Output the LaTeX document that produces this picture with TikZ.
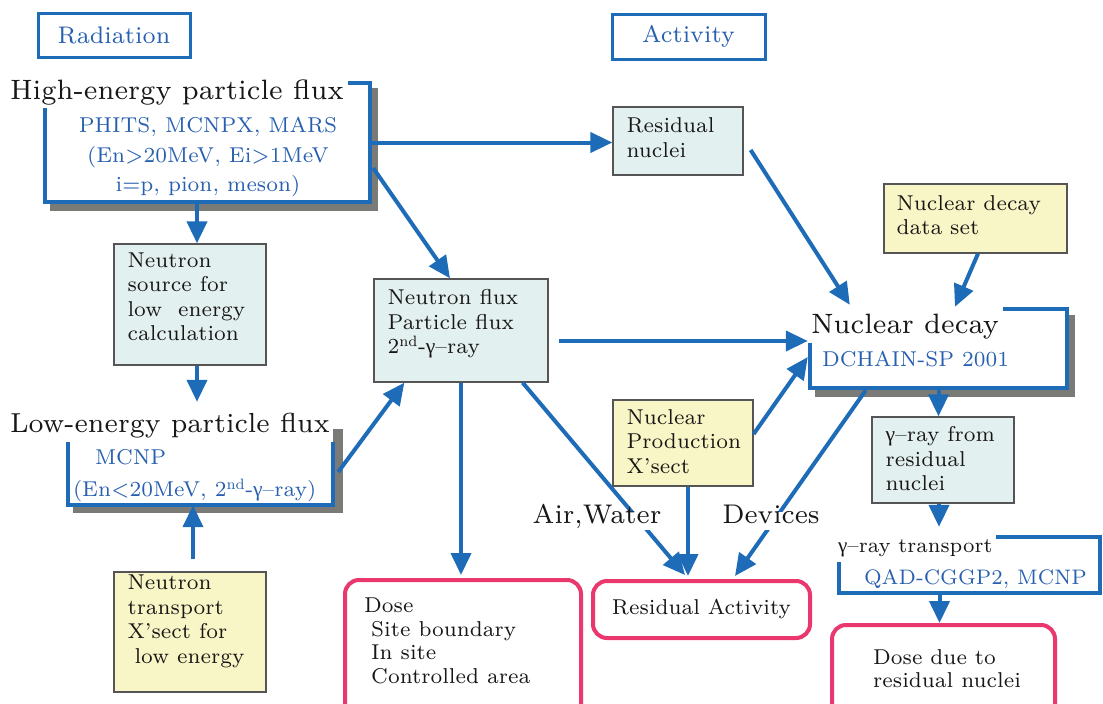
\documentclass[tikz,border=0pt]{standalone}
\usepackage{fontspec}
\setmainfont{lmroman7-regular.otf}[FakeStretch=0.96]
\newfontfamily\GrF{Liberation Serif}
\usetikzlibrary{arrows.meta,calc}
\pgfdeclarelayer{bg}
\pgfsetlayers{bg,main}
\definecolor{bline}{RGB}{30,108,184}
\definecolor{btext}{RGB}{40,96,176}
\definecolor{pinkc}{RGB}{234,55,110}
\definecolor{cyanf}{RGB}{226,241,240}
\definecolor{yelf}{RGB}{248,246,198}
\definecolor{bordc}{RGB}{85,85,85}
\definecolor{shadc}{RGB}{122,122,118}
\definecolor{txtc}{RGB}{25,22,22}
\newcommand\gam{{\GrF γ}}
\newcommand\FTitle{\fontsize{28}{30}\selectfont}
\newcommand\FBody{\fontsize{21.5}{24.5}\selectfont}
\newcommand\FBlue{\fontsize{21.5}{29.5}\selectfont}
\newcommand\FHead{\fontsize{24}{27}\selectfont}
\newcommand\FLab{\fontsize{27}{29}\selectfont}
\begin{document}
\begin{tikzpicture}[x=1pt,y=-1pt,
  arr/.style={draw=bline, line width=4pt, -{Triangle[length=22pt,width=20pt]}},
  cbox/.style={draw=bordc, line width=1.3pt, fill=cyanf, inner sep=0pt},
  ybox/.style={draw=bordc, line width=1.3pt, fill=yelf, inner sep=0pt},
  pbox/.style={draw=pinkc, line width=4pt, rounded corners=14pt, fill=white, inner sep=0pt},
  hbox/.style={draw=bline, line width=3pt, text=btext, font=\FHead, inner sep=0pt},
  brk/.style={draw=bline, line width=4pt},
  brkbox/.style={fill=white, inner sep=0pt},
  btxt/.style={text=txtc, font=\FBody, align=left, inner sep=0pt, anchor=west},
  bluetxt/.style={text=btext, font=\FBlue, inner sep=0pt},
  ttl/.style={text=txtc, font=\FTitle, inner sep=0pt, anchor=base west},
  lab/.style={text=txtc, font=\FLab, fill=white, inner sep=4pt, text height=0.72em, text depth=0.25em},
]
\useasboundingbox (0,0) rectangle (1103,704);
\clip (0,0) rectangle (1103,704);

% header boxes
\node[hbox, minimum width=152pt, minimum height=44pt] (rad) at (114,35) {Radiation};
\node[hbox, minimum width=153pt, minimum height=45pt] (act) at (688.5,36.5) {Activity};

% bracket boxes
\node[brkbox, minimum width=325pt, minimum height=119pt] (he) at (207.5,142.5) {};
\node[brkbox, minimum width=265pt, minimum height=82pt] (le) at (200.5,464) {};
\node[brkbox, minimum width=257pt, minimum height=79pt] (nd) at (938.5,348.5) {};
\node[brkbox, minimum width=261pt, minimum height=56pt] (gt) at (969.5,565) {};

\begin{pgfonlayer}{bg}
\fill[white] (0,0) rectangle (1103,704);
\fill[shadc] ($(he.north west)+(5,5)$) rectangle ($(he.south east)+(8,9)$);
\fill[shadc] ($(le.north west)+(5,6)$) rectangle ($(le.south east)+(10,8)$);
\fill[shadc] ($(nd.north west)+(5,6)$) rectangle ($(nd.south east)+(8,9)$);
\end{pgfonlayer}

\draw[brk] ($(he.north west)+(0,25)$) -- (he.south west) -- (he.south east) -- (he.north east) -- ($(he.north east)+(-22,0)$);
\draw[brk] ($(le.north west)+(0,19)$) -- (le.south west) -- (le.south east) -- ($(le.north east)+(0,19)$);
\draw[brk] ($(nd.north west)+(0,34)$) -- (nd.south west) -- (nd.south east) -- (nd.north east) -- ($(nd.north east)+(-64,0)$);
\draw[brk] ($(gt.north west)+(0,25)$) -- (gt.south west) -- (gt.south east) -- (gt.north east) -- ($(gt.north east)+(-104,0)$);

% plain boxes
\node[cbox, minimum width=152pt, minimum height=121pt] (ns) at (190,304.5) {};
\node[ybox, minimum width=152pt, minimum height=120pt] (nt) at (190,632) {};
\node[cbox, minimum width=174pt, minimum height=103pt] (nf) at (461,330.5) {};
\node[cbox, minimum width=130pt, minimum height=68pt] (rn) at (678,141) {};
\node[ybox, minimum width=183pt, minimum height=69pt] (nds) at (975.5,218.5) {};
\node[ybox, minimum width=140pt, minimum height=86pt] (np) at (683,443) {};
\node[cbox, minimum width=142pt, minimum height=86pt] (gb) at (943,460) {};
\node[pbox, minimum width=236pt, minimum height=145pt] (dose) at (463,652.5) {};
\node[pbox, minimum width=217pt, minimum height=57pt, font=\FBody, text=txtc] (ra) at (701.5,609.5) {Residual Activity};
\node[pbox, minimum width=223pt, minimum height=100pt] (dd) at (943.5,675) {};

% connectors
\draw[arr] ($(he.south)+(-10.5,0)$) -- ($(ns.north)+(7,0)$);
\draw[arr] ($(ns.south)+(7,0)$) -- ($(ns.south |- le.north)+(7,-21)$);
\draw[arr] ($(nt.north)+(3,-12)$) -- ($(nt.north |- le.south)+(3,0)$);
\draw[arr] ($(le.east)+(5,8)$) -- ($(nf.south west)+(31,0)$);
\draw[arr] ($(he.east)+(3,25.5)$) -- ($(nf.north)+(-11,0)$);
\draw[arr] (he.east) -- (he.east -| rn.west);
\draw[arr] ($(rn.east)+(7,9)$) -- ($(nd.north west)+(40,-4)$);
\draw[arr] ($(nds.south)+(2.5,0)$) -- ($(nd.north)+(16.5,-2)$);
\draw[arr] ($(nf.east)+(10,10.5)$) -- ($(nf.east -| nd.west)+(-2,10.5)$);
\draw[arr] ($(np.east)+(0,-9)$) -- ($(nd.west)+(-2,8.5)$);
\draw[arr] (nd.south) -- (nd.south |- gb.north);
\draw[arr] ($(gb.south)+(-4,0)$) -- ($(gb.south |- gt.north)+(-4,-10)$);
\draw[arr] ($(dd.north |- gt.south)+(-4,0)$) -- ($(dd.north)+(-4,0)$);
\draw[arr] (nf.south) -- ($(nf.south |- dose.north)+(0,-3)$);
\draw[arr] ($(nf.south east)+(-26,0)$) -- ($(ra.north)+(-16.5,-4)$);
\draw[arr] ($(np.south)+(5,0)$) -- ($(np.south |- ra.north)+(5,-3)$);
\draw[arr] ($(nd.south west)+(56,2)$) -- ($(ra.north)+(33.5,-3)$);

% connector labels
\node[lab, anchor=base] (airw) at (597,523) {Air,Water};
\node[lab, anchor=base] (devs) at (771,523) {Devices};

% titles
\node[ttl] (het) at ($(he.north west)+(-35,17)$) {High-energy particle flux};
\node[ttl, font=\fontsize{27.5}{30}\selectfont] (let) at ($(le.north west)+(-58,10)$) {Low-energy particle flux};
\node[ttl] (ndt) at ($(nd.north west)+(1,25)$) {Nuclear decay};
\node[ttl, font=\fontsize{21}{24}\selectfont] (gtt) at ($(gt.north west)+(-1,16)$) {\gam--ray transport};

% blue texts
\node[bluetxt, align=center] (hebl) at ($(he.center)+(0.5,15)$) {PHITS, MCNPX, MARS\\(En>20MeV, Ei>1MeV\\i=p, pion, meson)};
\node[bluetxt, anchor=base west] (lebl1) at ($(le.north west)+(27,42)$) {MCNP};
\node[bluetxt, anchor=base west] (lebl2) at ($(le.north west)+(5,74)$) {(En<20MeV, 2\textsuperscript{nd}-\gam--ray)};
\node[bluetxt, anchor=base west] (ndbl) at ($(nd.north west)+(12,58)$) {DCHAIN-SP 2001};
\node[bluetxt, font=\fontsize{21}{24}\selectfont, anchor=base west] (gtbl) at ($(gt.north west)+(25,48)$) {QAD-CGGP2, MCNP};

% box texts
\node[btxt] (nstx) at ($(ns.west)+(14,-7.5)$) {Neutron\\source for\\low~~energy\\calculation};
\node[btxt] (nttx) at ($(nt.west)+(14,-10.5)$) {Neutron\\transport\\X’sect for\\\hspace*{7pt}low energy};
\node[btxt] (nftx) at ($(nf.west)+(14,-6.5)$) {Neutron flux\\Particle flux\\2\textsuperscript{nd}-\gam--ray};
\node[btxt] (rntx) at ($(rn.west)+(14,-3.5)$) {Residual\\nuclei};
\node[btxt] (ndstx) at ($(nds.west)+(13,-3.5)$) {Nuclear decay\\data set};
\node[btxt] (nptx) at ($(np.west)+(14,-1.5)$) {Nuclear\\Production\\X’sect};
\node[btxt] (gbtx) at ($(gb.west)+(14,-1)$) {\gam--ray from\\residual\\nuclei};
\node[btxt, font=\fontsize{21.5}{23.7}\selectfont] (dosetx) at ($(dose.north west)+(21,63)$) {Dose\\\hspace*{7pt}Site boundary\\\hspace*{7pt}In site\\\hspace*{7pt}Controlled area};
\node[btxt, font=\fontsize{21.5}{23}\selectfont] (ddtx) at ($(dd.north west)+(43,46)$) {Dose due to\\residual nuclei};
\end{tikzpicture}
\end{document}
